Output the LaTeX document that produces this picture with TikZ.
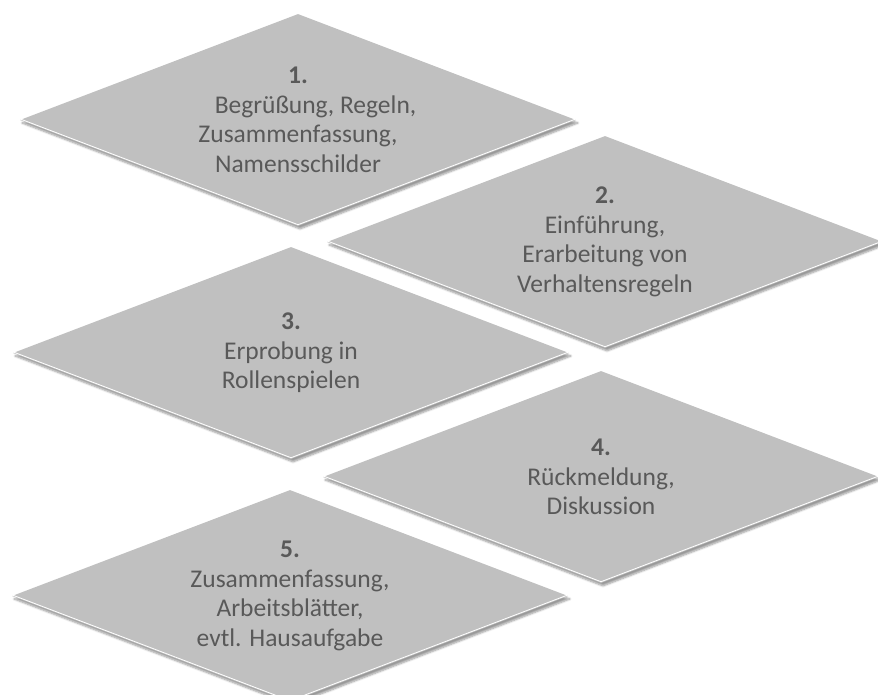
\documentclass[tikz,border=0pt]{standalone}
\usepackage{fontspec}
\setmainfont{Carlito}
\usetikzlibrary{shapes.geometric,shadows.blur}
\definecolor{tilegray}{RGB}{192,192,192}
\definecolor{tiletext}{RGB}{89,89,89}

\begin{document}
\begin{tikzpicture}[x=1pt,y=-1pt]
    % Define styles
    \tikzstyle{tile} = [diamond, aspect=2.62, minimum width=556pt, minimum height=212pt, inner sep=0pt, fill=tilegray, text=tiletext, align=center, font=\fontsize{25.5}{29.5}\selectfont, blur shadow={shadow xshift=2pt, shadow yshift=-3pt, shadow opacity=40, shadow blur steps=6}]
    \tikzstyle{rim} = [white, line width=0.8pt]
    \useasboundingbox (0,0) rectangle (878,695);

    % Nodes
    \node (s1) [tile] at (298,120) {\textbf{1.}\\\hspace*{35pt}Begrüßung, Regeln,\\Zusammenfassung,\\Namensschilder};
    \node (s2) [tile] at (605,242) {\textbf{2.}\\Einführung,\\Erarbeitung von\\Verhaltensregeln};
    \node (s3) [tile] at (291,353) {\textbf{3.}\\Erprobung in\\Rollenspielen};
    \node (s4) [tile] at (601,477) {\textbf{4.}\\Rückmeldung,\\Diskussion};
    \node (s5) [tile] at (290,596) {\textbf{5.}\\Zusammenfassung,\\Arbeitsblätter,\\evtl. Hausaufgabe};

    % Light lower edges
    \foreach \n in {s1,s2,s3,s4,s5}
        \draw [rim] ([yshift=1.2pt]\n.west) -- ([yshift=1.5pt]\n.south) -- ([yshift=1.2pt]\n.east);
\end{tikzpicture}
\end{document}
